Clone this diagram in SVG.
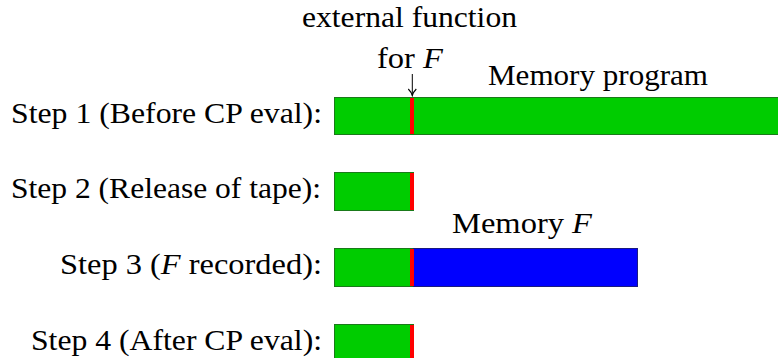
<svg xmlns="http://www.w3.org/2000/svg" width="778" height="358" viewBox="0 0 778 358">
  <style>
    text { font-family: "Liberation Serif", "Times New Roman", serif; font-size: 29px; fill: #000; }
    .it { font-style: italic; }
    .green { fill: #00cc00; stroke: #1a7a1a; stroke-width: 1; }
    .red { fill: #ff0000; stroke: none; }
    .blue { fill: #0000ff; stroke: #1a1a80; stroke-width: 1; }
    .conn { stroke: #000; stroke-width: 1; fill: none; }
  </style>
  <defs>
    <!-- hooked tip pointing along the line direction (+x in marker space) -->
    <marker id="arr" markerWidth="12" markerHeight="12" refX="10.5" refY="6" orient="auto" markerUnits="userSpaceOnUse" viewBox="0 0 12 12">
      <path d="M4,2 Q7,5 10.5,6 Q7,7 4,10" fill="none" stroke="#000" stroke-width="1.1"/>
    </marker>
  </defs>

  <!-- row labels -->
  <g id="labels">
    <text x="11" y="123" textLength="311" lengthAdjust="spacingAndGlyphs">Step 1 (Before CP eval):</text>
    <text x="11" y="198" textLength="310" lengthAdjust="spacingAndGlyphs">Step 2 (Release of tape):</text>
    <text x="60" y="274" textLength="262" lengthAdjust="spacingAndGlyphs">Step 3 (<tspan class="it">F</tspan> recorded):</text>
    <text x="31" y="349.5" textLength="291" lengthAdjust="spacingAndGlyphs">Step 4 (After CP eval):</text>
  </g>

  <!-- step 1 tape -->
  <g id="step1">
    <rect class="green" x="334.5" y="97.5" width="450" height="37"/>
    <rect class="red" x="410" y="98" width="4" height="36"/>
    <text x="488" y="85" textLength="220" lengthAdjust="spacingAndGlyphs">Memory program</text>
  </g>

  <!-- step 2 tape -->
  <g id="step2">
    <rect class="green" x="334.5" y="172.5" width="79" height="38"/>
    <rect class="red" x="410" y="173" width="4" height="37"/>
  </g>

  <!-- step 3 tape -->
  <g id="step3">
    <rect class="green" x="334.5" y="248.5" width="79" height="38"/>
    <rect class="blue" x="413.5" y="248.5" width="224" height="38"/>
    <rect class="red" x="410" y="249" width="4" height="37"/>
    <text x="452" y="233" textLength="140" lengthAdjust="spacingAndGlyphs">Memory <tspan class="it">F</tspan></text>
  </g>

  <!-- step 4 tape -->
  <g id="step4">
    <rect class="green" x="334.5" y="324.5" width="79" height="40"/>
    <rect class="red" x="410" y="325" width="4" height="40"/>
  </g>

  <!-- pointer to the external function -->
  <g id="extfun">
    <text x="302" y="27" textLength="215" lengthAdjust="spacingAndGlyphs">external function</text>
    <text x="377" y="68" textLength="66" lengthAdjust="spacingAndGlyphs">for <tspan class="it">F</tspan></text>
  </g>
  <g id="connectors">
    <line class="conn" x1="412.3" y1="74" x2="412.3" y2="95.5" marker-end="url(#arr)"/>
  </g>
</svg>
